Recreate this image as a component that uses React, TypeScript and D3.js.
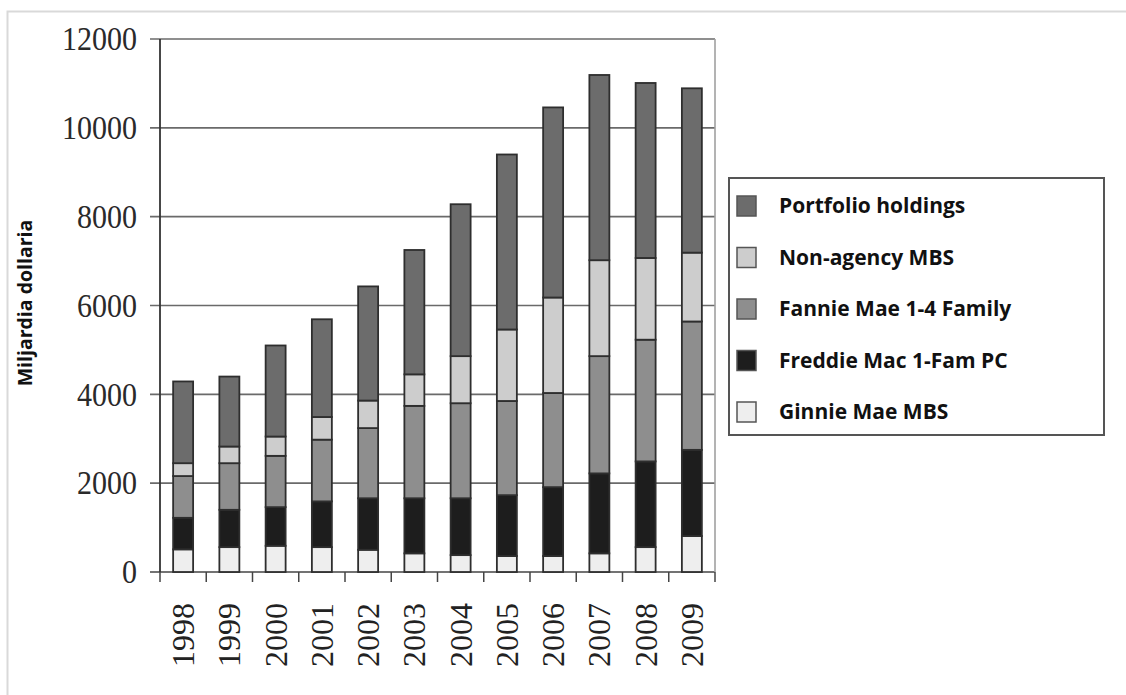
import { useEffect, useRef } from 'react';
import * as d3 from 'd3';

// vuodet ja sarjat (miljardia dollaria), luettu kuvasta
const years = ['1998', '1999', '2000', '2001', '2002', '2003', '2004', '2005', '2006', '2007', '2008', '2009'];
const ginnieMae = [510, 560, 590, 560, 500, 420, 380, 360, 360, 420, 560, 810];
const freddieMac = [710, 840, 870, 1030, 1160, 1240, 1280, 1370, 1550, 1800, 1930, 1940];
const fannieMae = [940, 1050, 1155, 1390, 1580, 2080, 2140, 2120, 2120, 2640, 2740, 2890];
const nonAgency = [290, 375, 435, 510, 620, 710, 1060, 1610, 2150, 2160, 1840, 1550];
const portfolio = [1840, 1575, 2050, 2200, 2570, 2800, 3420, 3940, 4280, 4170, 3940, 3700];
const yTicks = [0, 2000, 4000, 6000, 8000, 10000, 12000];

const seriesKeys = ['ginnie', 'freddie', 'fannie', 'nonagency', 'portfolio'];
const seriesNames: Record<string, string> = {
  portfolio: 'Portfolio holdings',
  nonagency: 'Non-agency MBS',
  fannie: 'Fannie Mae 1-4 Family',
  freddie: 'Freddie Mac 1-Fam PC',
  ginnie: 'Ginnie Mae MBS',
};
const colors: Record<string, string> = {
  portfolio: '#6c6c6c',
  nonagency: '#cdcdcd',
  fannie: '#8e8e8e',
  freddie: '#1d1d1d',
  ginnie: '#eeeeee',
};

export default function App() {
  const ref = useRef<SVGSVGElement | null>(null);

  useEffect(() => {
    if (!ref.current) return;
    const svg = d3.select(ref.current);
    svg.selectAll('*').remove();

    const rows = years.map((year, i) => ({
      year,
      ginnie: ginnieMae[i],
      freddie: freddieMac[i],
      fannie: fannieMae[i],
      nonagency: nonAgency[i],
      portfolio: portfolio[i],
    }));

    const left = 160, right = 715, top = 39, bottom = 572;

    const x = d3.scaleBand().domain(years).range([left, right]).paddingInner(0.568).paddingOuter(0.284);
    const y = d3.scaleLinear().domain([0, 12000]).range([bottom, top]);

    // ulkokehys (vain vasen ja ylä näkyvät)
    svg.append('path')
      .attr('d', 'M7.5,695 L7.5,11.5 L1126,11.5')
      .attr('fill', 'none')
      .attr('stroke', '#d9d9d9')
      .attr('stroke-width', 2);

    // ruudukko
    svg.append('g')
      .selectAll('line')
      .data(yTicks)
      .join('line')
      .attr('x1', left - 10)
      .attr('x2', right)
      .attr('y1', (d) => y(d))
      .attr('y2', (d) => y(d))
      .attr('stroke', (d) => (d === 0 ? '#444' : '#6a6a6a'))
      .attr('stroke-width', 1.6);

    // oikea reuna
    svg.append('line')
      .attr('x1', right).attr('x2', right)
      .attr('y1', top).attr('y2', bottom)
      .attr('stroke', '#a0a0a0')
      .attr('stroke-width', 1.6);

    // Y-akselin tekstit
    svg.append('g')
      .selectAll('text')
      .data(yTicks)
      .join('text')
      .attr('x', 137)
      .attr('y', (d) => y(d))
      .attr('dy', '0.34em')
      .attr('text-anchor', 'end')
      .attr('font-family', '"Liberation Serif", "Times New Roman", serif')
      .attr('font-size', 33)
      .attr('textLength', (d) => String(d).length * 15)
      .attr('lengthAdjust', 'spacingAndGlyphs')
      .attr('fill', '#2a2a2a')
      .text((d) => String(d));

    // pinotut palkit
    const stacked = d3.stack<any>().keys(seriesKeys)(rows);
    svg.append('g')
      .selectAll('g')
      .data(stacked)
      .join('g')
      .attr('fill', (s) => colors[s.key])
      .selectAll('rect')
      .data((s) => s)
      .join('rect')
      .attr('x', (d) => x(d.data.year)!)
      .attr('width', x.bandwidth())
      .attr('y', (d) => y(d[1]))
      .attr('height', (d) => y(d[0]) - y(d[1]))
      .attr('stroke', '#2e2e2e')
      .attr('stroke-width', 1.8);

    // vasen akseli ja x-akselin tikit
    svg.append('line')
      .attr('x1', left).attr('x2', left)
      .attr('y1', top).attr('y2', bottom)
      .attr('stroke', '#333')
      .attr('stroke-width', 1.8);

    const boundaries = years.map((yr) => x(yr)! - (x.step() - x.bandwidth()) / 2).concat([right]);
    svg.append('g')
      .selectAll('line')
      .data(boundaries)
      .join('line')
      .attr('x1', (d) => d).attr('x2', (d) => d)
      .attr('y1', bottom).attr('y2', bottom + 10)
      .attr('stroke', '#444')
      .attr('stroke-width', 1.5);

    // X-akselin tekstit (pystyssä)
    svg.append('g')
      .selectAll('text')
      .data(years)
      .join('text')
      .attr('transform', (d) => `translate(${x(d)! + x.bandwidth() / 2},603) rotate(-90)`)
      .attr('dy', '0.34em')
      .attr('text-anchor', 'end')
      .attr('font-family', '"Liberation Serif", "Times New Roman", serif')
      .attr('font-size', 32)
      .attr('fill', '#222')
      .text((d) => d);

    // Y-akselin otsikko
    svg.append('text')
      .attr('transform', 'translate(25,303) rotate(-90)')
      .attr('dy', '0.35em')
      .attr('text-anchor', 'middle')
      .attr('font-family', '"Open Sans", Lato, sans-serif')
      .attr('font-weight', 'bold')
      .attr('font-size', 19.5)
      .attr('fill', '#111')
      .text('Miljardia dollaria');

    // selite
    const legend = svg.append('g');
    legend.append('rect')
      .attr('x', 729).attr('y', 178)
      .attr('width', 375).attr('height', 257)
      .attr('fill', '#fff')
      .attr('stroke', '#555')
      .attr('stroke-width', 2);

    const legendKeys = [...seriesKeys].reverse();
    const item = legend.selectAll('g.item')
      .data(legendKeys)
      .join('g')
      .attr('class', 'item')
      .attr('transform', (_d, i) => `translate(0,${206 + i * 51.5})`);

    item.append('rect')
      .attr('x', 737).attr('y', -10)
      .attr('width', 19).attr('height', 20)
      .attr('fill', (d) => colors[d])
      .attr('stroke', '#555')
      .attr('stroke-width', 1.5);

    item.append('text')
      .attr('x', 779)
      .attr('dy', '0.35em')
      .attr('font-family', '"Open Sans", Lato, sans-serif')
      .attr('font-weight', 'bold')
      .attr('font-size', 21)
      .attr('fill', '#111')
      .text((d) => seriesNames[d]);
  }, []);

  return (
    <svg
      ref={ref}
      width={1126}
      height={695}
      style={{ position: 'absolute', left: 0, top: 0, background: '#fff' }}
    />
  );
}
